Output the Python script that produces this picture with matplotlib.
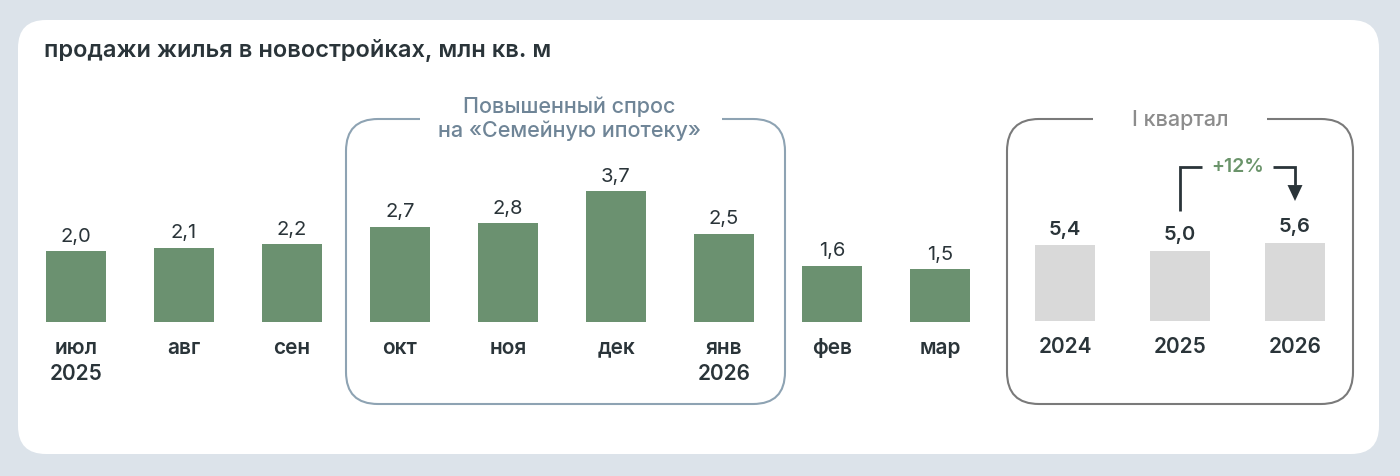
import matplotlib
matplotlib.use("Agg")
import matplotlib.pyplot as plt
from matplotlib.patches import FancyBboxPatch, Rectangle, Polygon

# data
months = ["июл\n2025", "авг", "сен", "окт", "ноя", "дек", "янв\n2026", "фев", "мар"]
sales = [2.0, 2.1, 2.2, 2.7, 2.8, 3.7, 2.5, 1.6, 1.5]
years = ["2024", "2025", "2026"]
q1_sales = [5.4, 5.0, 5.6]
growth_label = "+12%"

title = "продажи жилья в новостройках, млн кв. м"
box1_title = "Повышенный спрос\nна «Семейную ипотеку»"
box2_title = "I квартал"

# colours
BG = "#dce3ea"
GREEN = "#6b9170"
GREY_BAR = "#d9d9d9"
DARK = "#2a3439"
BLUE_GREY = "#8ea3b3"
BLUE_TXT = "#6f8597"
GREY_LINE = "#7a7a7a"
GREY_TXT = "#8c8c8c"
PCT = "#6b946b"

plt.rcParams['font.family'] = ['Inter', 'DejaVu Sans']

W, H = 1400, 477
fig = plt.figure(figsize=(W / 100, H / 100), dpi=100, facecolor=BG)
inch = fig.dpi_scale_trans


def px(x, y):
    # pixel coords (from top-left) -> inches
    return x / 100, (H - y) / 100


def rbox(x0, y0, x1, y1, r, **kw):
    x, y = px(x0, y1)
    p = FancyBboxPatch((x, y), (x1 - x0) / 100, (y1 - y0) / 100,
                       boxstyle=f"round,pad=0,rounding_size={r / 100}",
                       transform=inch, **kw)
    fig.patches.append(p)
    return p


# white card
rbox(18, 21, 1379, 455, 28, facecolor="white", edgecolor="none", zorder=-3)

# highlight boxes with a gap in top edge for the caption
rbox(346, 120, 785, 405, 32, facecolor="none", edgecolor=BLUE_GREY, lw=1.5, zorder=-2)
rbox(1007, 120, 1353, 405, 32, facecolor="none", edgecolor=GREY_LINE, lw=1.5, zorder=-2)
for x0, x1 in [(420, 722), (1093, 1267)]:
    x, y = px(x0, 125)
    fig.patches.append(Rectangle((x, y), (x1 - x0) / 100, 0.1, transform=inch,
                                 facecolor="white", edgecolor="none", zorder=-1))

fig.text(*px(44, 50), title, transform=inch, fontsize=17, fontweight="semibold",
         color=DARK, va="center", ha="left")
fig.text(*px(569, 119), box1_title, transform=inch, fontsize=15.5, color=BLUE_TXT,
         fontweight="medium", va="center", ha="center", linespacing=1.2)
fig.text(*px(1180, 120), box2_title, transform=inch, fontsize=15.5, color=GREY_TXT,
         fontweight="medium", va="center", ha="center")

# monthly bars
ax = fig.add_axes([22 / W, (H - 323) / H, 972 / W, 4 * 35.3 / H])
ax.set_xlim(-0.5, 8.5)
ax.set_ylim(0, 4)
ax.axis("off")
xs = range(len(sales))
ax.bar(xs, sales, width=60 / 108, color=GREEN)
for i, v in zip(xs, sales):
    ax.annotate(f"{v:.1f}".replace(".", ","), (i, v), xytext=(0, 7.5),
                textcoords="offset points", ha="center", va="baseline",
                fontsize=14.5, color=DARK, annotation_clip=False)
    ax.annotate(months[i], (i, 0), xytext=(0, -10.5), textcoords="offset points",
                ha="center", va="top", fontsize=15, fontweight="semibold",
                color=DARK, linespacing=1.4, annotation_clip=False)

# quarterly bars
ax2 = fig.add_axes([1007.5 / W, (H - 322) / H, 345 / W, 6 * 14 / H])
ax2.set_xlim(-0.5, 2.5)
ax2.set_ylim(0, 6)
ax2.axis("off")
xs2 = range(len(q1_sales))
ax2.bar(xs2, q1_sales, width=60 / 115, color=GREY_BAR)
for i, v in zip(xs2, q1_sales):
    ax2.annotate(f"{v:.1f}".replace(".", ","), (i, v), xytext=(0, 8.5),
                 textcoords="offset points", ha="center", va="baseline",
                 fontsize=14.5, fontweight="semibold", color=DARK, annotation_clip=False)
    ax2.annotate(years[i], (i, 0), xytext=(0, -10.5), textcoords="offset points",
                 ha="center", va="top", fontsize=15, fontweight="semibold",
                 color=DARK, annotation_clip=False)

# growth arrow from 2025 to 2026
y_top = 11.0
y_start = q1_sales[1] + 2.86
y_tip = q1_sales[2] + 2.97
y_head = y_tip + 1.14
ax2.plot([1, 1, 1.19], [y_start, y_top, y_top], color=DARK, lw=2, clip_on=False,
         solid_capstyle="butt", solid_joinstyle="miter")
ax2.plot([1.81, 2, 2], [y_top, y_top, y_head], color=DARK, lw=2, clip_on=False,
         solid_capstyle="butt", solid_joinstyle="miter")
ax2.add_patch(Polygon([(2 - 0.065, y_head), (2 + 0.065, y_head), (2, y_tip)],
                      closed=True, facecolor=DARK, edgecolor="none", clip_on=False))
ax2.text(1.5, y_top + 0.05, growth_label, ha="center", va="center", fontsize=14,
         fontweight="semibold", color=PCT)

fig.savefig("out.png", dpi=100, facecolor=BG)
